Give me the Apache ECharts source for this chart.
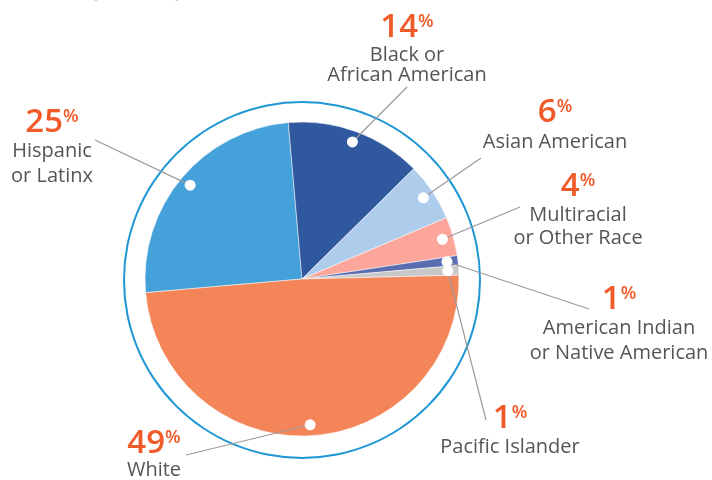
<!DOCTYPE html>
<html>
<head>
<meta charset="utf-8">
<script src="https://cdn.jsdelivr.net/npm/echarts@6/dist/echarts.min.js"></script>
<style>
  html,body{margin:0;padding:0;background:#fff;}
  #chart{width:712px;height:480px;}
</style>
</head>
<body>
<div id="chart"></div>
<script>
// data
let groups=[
    ['Hispanic','or Latinx'],
    ['Black or','African American'],
    ['Asian American'],
    ['Multiracial','or Other Race'],
    ['American Indian','or Native American'],
    ['Pacific Islander'],
    ['White']
];
let shares=[25,14,6,4,1,1,49];
let sliceColors=['#45a1da','#30589e','#aecdec','#fba59b','#5a6db0','#c8c8c8','#f48558'];

// where each label sits (center x, baseline of percent, baselines of name lines, end of guide line)
let labelSpots=[
    {x:52, base:133, lines:[158,183], lineEnd:[95,140]},
    {x:407,base:38,  lines:[62,82],   lineEnd:[407,87]},
    {x:555,base:123, lines:[149],     lineEnd:[481,158]},
    {x:578,base:197, lines:[222,245], lineEnd:[520,207]},
    {x:619,base:310, lines:[335,360], lineEnd:[589,309]},
    {x:510,base:429, lines:[454],     lineEnd:[486,420]},
    {x:154,base:454, lines:[477],     lineEnd:[186,455]}
];

let center=[302,279];
let pieR=157;
let dotR=146;
let startAngle=185;

// mid angle of each slice (in percent units, fed to the polar angle axis)
let total=shares.reduce((a,b)=>a+b,0);
let acc=0;
let dotData=shares.map((v,i)=>{
    let mid=(acc+v/2)/total*100;
    acc+=v;
    return [dotR,mid,i];
});

let myChart=echarts.init(document.getElementById('chart'));
let option={
    animation:false,
    title:{
        text:'(2019/20)',
        left:86,
        top:-24,
        textStyle:{color:'#1f3d7a',fontSize:20,fontWeight:'bold',fontFamily:'Open Sans'}
    },
    polar:{center:center,radius:pieR},
    radiusAxis:{type:'value',min:0,max:pieR,show:false},
    angleAxis:{type:'value',min:0,max:100,startAngle:startAngle,clockwise:true,show:false},
    series:[
        {
            type:'pie',
            center:['302','280'],
            radius:[177,179],
            silent:true,
            label:{show:false},
            labelLine:{show:false},
            itemStyle:{color:'#1f97d4'},
            data:[1]
        },
        {
            type:'pie',
            center:center,
            radius:[0,pieR],
            startAngle:startAngle,
            clockwise:true,
            silent:true,
            label:{show:false},
            labelLine:{show:false},
            itemStyle:{borderColor:'#fff',borderWidth:0.5},
            data:shares.map((v,i)=>({value:v,name:groups[i].join(' '),itemStyle:{color:sliceColors[i]}}))
        },
        {
            type:'custom',
            coordinateSystem:'polar',
            silent:true,
            z:10,
            data:dotData,
            renderItem:(params,api)=>{
                let i=api.value(2);
                let pt=api.coord([api.value(0),api.value(1)]);
                let spot=labelSpots[i];
                let kids=[
                    {type:'line',shape:{x1:pt[0],y1:pt[1],x2:spot.lineEnd[0],y2:spot.lineEnd[1]},
                        style:{stroke:'#9a9a9a',lineWidth:1.2}},
                    {type:'circle',shape:{cx:pt[0],cy:pt[1],r:5.5},style:{fill:'#fff'}},
                    {type:'text',x:spot.x,y:spot.base-10.5,
                        style:{
                            text:'{n|'+shares[i]+'}{s|%}',
                            align:'center',verticalAlign:'middle',
                            rich:{
                                n:{fontSize:33,fontWeight:600,fontFamily:'Open Sans',fill:'#f15a29',verticalAlign:'middle',lineHeight:33},
                                s:{fontSize:18,fontWeight:600,fontFamily:'Open Sans',fill:'#f15a29',verticalAlign:'top',lineHeight:33,padding:[2,0,0,0]}
                            }
                        }}
                ];
                groups[i].forEach((t,k)=>{
                    kids.push({type:'text',x:spot.x,y:spot.lines[k]-7,
                        style:{text:t,align:'center',verticalAlign:'middle',
                            font:'20px "Open Sans"',fill:'#555555'}});
                });
                return {type:'group',children:kids};
            }
        }
    ]
};
myChart.setOption(option);
window.addEventListener("resize",function(){
    myChart.resize();
});
</script>
</body>
</html>
